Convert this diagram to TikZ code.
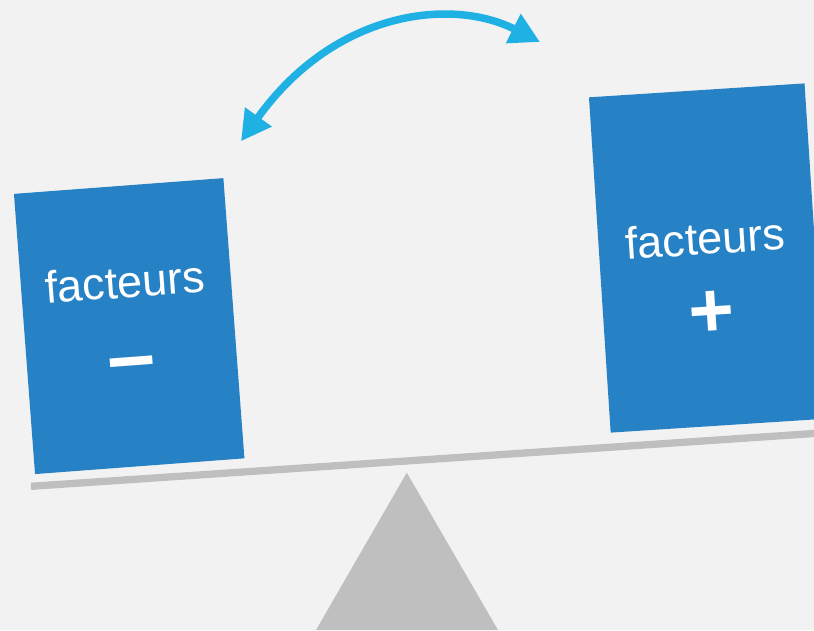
\documentclass[tikz,border=0pt]{standalone}
\usepackage{fontspec}
\setmainfont{Liberation Sans}
\usetikzlibrary{arrows.meta}
\definecolor{fond}{HTML}{F2F2F2}
\definecolor{bleu}{HTML}{2682C5}
\definecolor{ciel}{HTML}{1FB0E4}
\definecolor{gris}{HTML}{BFBFBF}
\begin{document}
\begin{tikzpicture}[x=1pt,y=-1pt]
\tikzset{ >={Triangle[length=30pt,width=31pt]}, inner sep=0pt, outer sep=0pt,
  bloc/.style={fill=bleu, rectangle},
  mot/.style={text=white, font=\fontsize{45}{50}\selectfont},
  signe/.style={text=white, font=\fontsize{#1}{90}\selectfont\bfseries} }
\useasboundingbox (0,0) rectangle (814,630);
\fill [fond] (0,0) rectangle (814,630);

% pivot et fleau
\fill [gris] (406.8,472.7) -- (498,630) -- (316,630) -- cycle;
\draw [gris, line width=7.3pt] (31,486.3) -- (830,432.4);

% plateau gauche
\node [bloc, minimum width=210pt, minimum height=281pt, rotate=4.3] (MOINS) at (129.2,326.1) {};
\node [mot, rotate=4.3] (MOT1) at (125,281.7) {facteurs};
\node [signe=86, rotate=4.3] (SG1) at (132.4,371) {–};

% plateau droit
\node [bloc, minimum width=216pt, minimum height=336pt, rotate=3.7] (PLUS) at (707.6,258) {};
\node [mot, rotate=3.7] (MOT2) at (705,238.3) {facteurs};
\node [signe=78, rotate=3.7] (SG2) at (711.9,314) {+};

% fleche
\coordinate (A) at (241,141.3);
\coordinate (B) at (540,42);
\draw [<->, ciel, line width=7.5pt] (A) .. controls (334,11) and (451,-3) .. (B);

\end{tikzpicture}
\end{document}
